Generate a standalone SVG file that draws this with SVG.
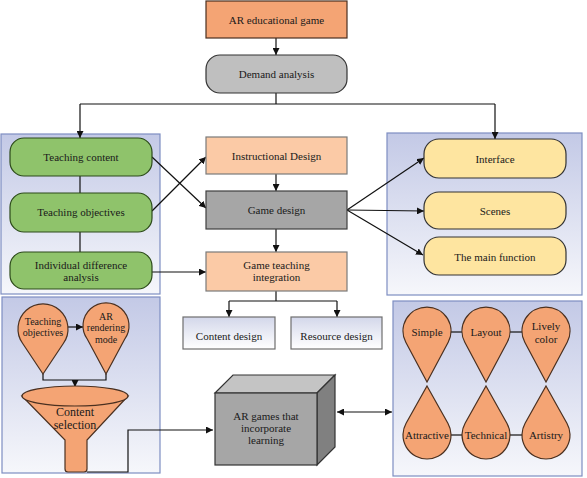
<svg xmlns="http://www.w3.org/2000/svg" width="587" height="478" viewBox="0 0 587 478">
<defs>
<linearGradient id="panelGrad" x1="0" y1="0" x2="0" y2="1">
<stop offset="0" stop-color="#c3c9e6"/>
<stop offset="1" stop-color="#f6f7fb"/>
</linearGradient>
<linearGradient id="boxGrad" x1="0" y1="0" x2="0" y2="1">
<stop offset="0" stop-color="#d3d7ea"/>
<stop offset="1" stop-color="#ffffff"/>
</linearGradient>
<marker id="arr" viewBox="0 0 10 10" refX="10" refY="5" markerWidth="7" markerHeight="7" orient="auto-start-reverse" markerUnits="userSpaceOnUse">
<path d="M0,0 L10,5 L0,10 Z" fill="#111"/>
</marker>
<style>
text{font-family:"Liberation Serif","Times New Roman",serif;font-size:11px;fill:#1a1a1a;text-anchor:middle}
.small{font-size:10px}
.big{font-size:12px}
.panel{fill:url(#panelGrad);stroke:#7e8ec2;stroke-width:1.2}
.orange{fill:#f4a474;stroke:#4a3020;stroke-width:1.2}
.gray{fill:#bfbfbf;stroke:#333;stroke-width:1.2}
.green{fill:#8fc36b;stroke:#2c4a1a;stroke-width:1.2}
.peach{fill:#fbcaa6;stroke:#7a7a7a;stroke-width:1.2}
.dgray{fill:#a6a6a6;stroke:#404040;stroke-width:1.2}
.yellow{fill:#fee5a0;stroke:#333;stroke-width:1.2}
.gbox{fill:url(#boxGrad);stroke:#6e6e6e;stroke-width:1.2}
.ln{fill:none;stroke:#111;stroke-width:1.2}
.ar{fill:none;stroke:#111;stroke-width:1.2;marker-end:url(#arr)}
</style>
</defs>
<rect width="587" height="478" fill="#ffffff"/>

<!-- panels -->
<g id="panels">
<rect id="panel-left-top" class="panel" x="1" y="134" width="159" height="160"/>
<rect id="panel-right-top" class="panel" x="387" y="133" width="195" height="162"/>
<rect id="panel-left-bottom" class="panel" x="2" y="297" width="158" height="176"/>
<rect id="panel-right-bottom" class="panel" x="393" y="301" width="189" height="175"/>
</g>

<!-- connectors -->
<g id="connectors">
<line class="ar" x1="276" y1="38" x2="276" y2="55"/>
<polyline class="ln" points="276,93 276,104"/>
<polyline class="ln" points="80,104 495,104"/>
<line class="ar" x1="80" y1="104" x2="80" y2="138"/>
<line class="ar" x1="495" y1="104" x2="495" y2="139"/>
<line class="ln" x1="80" y1="176" x2="80" y2="193"/>
<line class="ln" x1="80" y1="232" x2="80" y2="252"/>
<line class="ar" x1="152" y1="157" x2="206" y2="208"/>
<line class="ar" x1="152" y1="211" x2="206" y2="157"/>
<line class="ar" x1="152" y1="272" x2="206" y2="272"/>
<line class="ar" x1="276" y1="174" x2="276" y2="191"/>
<line class="ar" x1="276" y1="229" x2="276" y2="252"/>
<line class="ar" x1="347" y1="210" x2="424" y2="158"/>
<line class="ar" x1="347" y1="210" x2="424" y2="211"/>
<line class="ar" x1="347" y1="210" x2="423" y2="255"/>
<line class="ln" x1="276" y1="291" x2="276" y2="301"/>
<line class="ln" x1="229" y1="301" x2="337" y2="301"/>
<line class="ar" x1="229" y1="301" x2="229" y2="317"/>
<line class="ar" x1="337" y1="301" x2="337" y2="317"/>
<line class="ar" x1="66" y1="327" x2="83" y2="327"/>
<polyline class="ln" points="43,374 43,380 106,380 106,374"/>
<line class="ar" x1="75" y1="380" x2="75" y2="387"/>
<polyline class="ar" points="87,472 128,472 128,430 213,430"/>
<line class="ar" x1="337" y1="412" x2="392" y2="412" style="marker-start:url(#arr)"/>
<line class="ln" x1="451" y1="332" x2="462" y2="332"/>
<line class="ln" x1="510" y1="332" x2="522" y2="332"/>
<line class="ln" x1="451" y1="435" x2="462" y2="435"/>
<line class="ln" x1="510" y1="435" x2="522" y2="435"/>
</g>

<g id="n-ar-game"><rect class="orange" x="206" y="1" width="141" height="37"/><text x="276.5" y="24">AR educational game</text></g>
<g id="n-demand"><rect class="gray" x="206" y="55" width="141" height="38" rx="14"/><text x="276.5" y="78">Demand analysis</text></g>

<g id="n-teach-content"><rect class="green" x="10" y="138" width="142" height="38" rx="14"/><text x="81" y="161">Teaching content</text></g>
<g id="n-teach-obj"><rect class="green" x="10" y="193" width="142" height="39" rx="14"/><text x="81" y="216">Teaching objectives</text></g>
<g id="n-indiv"><rect class="green" x="10" y="252" width="142" height="37" rx="14"/><text x="81" y="269">Individual difference</text><text x="81" y="281">analysis</text></g>

<g id="n-instr"><rect class="peach" x="206" y="137" width="141" height="37"/><text x="276.5" y="159.5">Instructional Design</text></g>
<g id="n-game-design"><rect class="dgray" x="206" y="191" width="141" height="38"/><text x="276.5" y="214">Game design</text></g>
<g id="n-integration"><rect class="peach" x="206" y="252" width="141" height="39"/><text x="276.5" y="269">Game teaching</text><text x="276.5" y="281">integration</text></g>
<g id="n-content-design"><rect class="gbox" x="183" y="317" width="92" height="32"/><text x="229" y="339.5">Content design</text></g>
<g id="n-resource-design"><rect class="gbox" x="291" y="317" width="91" height="32"/><text x="336.5" y="339.5">Resource design</text></g>

<g id="n-interface"><rect class="yellow" x="424" y="139" width="142" height="39" rx="15"/><text x="495" y="163">Interface</text></g>
<g id="n-scenes"><rect class="yellow" x="424" y="192" width="142" height="37" rx="15"/><text x="495" y="215">Scenes</text></g>
<g id="n-main-func"><rect class="yellow" x="424" y="237" width="142" height="38" rx="15"/><text x="495" y="261">The main function</text></g>

<g id="n-drop-teach-obj"><path class="orange" d="M43,374 L22.7,343.5 A25 25 0 1 1 63.3,343.5 Z"/><text class="small" x="43" y="325">Teaching</text><text class="small" x="43" y="336">objectives</text></g>
<g id="n-drop-ar-mode"><path class="orange" d="M106,374 L87.5,339.5 A23 23 0 1 1 124.5,339.5 Z"/><text class="small" x="106" y="320">AR</text><text class="small" x="106" y="331">rendering</text><text class="small" x="106" y="343">mode</text></g>
<g id="n-funnel"><path class="orange" d="M22,396 L65,440 L65,469 Q65,472 68,472 L84,472 Q87,472 87,469 L87,440 L128,396 Z"/><ellipse class="orange" cx="75" cy="396" rx="53" ry="10"/><text class="big" x="75" y="416">Content</text><text class="big" x="75" y="429">selection</text></g>

<g id="n-ar-box">
<polygon points="215,393 233,375 335,375 317,393" fill="#c4c4c4" stroke="#333" stroke-width="1.2"/>
<polygon points="317,393 335,375 335,447 317,465" fill="#808080" stroke="#333" stroke-width="1.2"/>
<rect x="215" y="393" width="102" height="72" fill="#a6a6a6" stroke="#333" stroke-width="1.2"/>
<text x="266" y="420">AR games that</text><text x="266" y="432">incorporate</text><text x="266" y="444">learning</text>
</g>

<g id="n-simple"><path class="orange" d="M427,382 L405.8,342.3 A24 24 0 1 1 448.2,342.3 Z"/><text x="427" y="336">Simple</text></g>
<g id="n-layout"><path class="orange" d="M486,382 L464.8,342.3 A24 24 0 1 1 507.2,342.3 Z"/><text x="486" y="336">Layout</text></g>
<g id="n-lively"><path class="orange" d="M546,382 L524.8,342.3 A24 24 0 1 1 567.2,342.3 Z"/><text x="546" y="330">Lively</text><text x="546" y="343">color</text></g>
<g id="n-attractive"><path class="orange" d="M427,386 L447.9,423.2 A24 24 0 1 1 406.1,423.2 Z"/><text x="427" y="439">Attractive</text></g>
<g id="n-technical"><path class="orange" d="M486,386 L506.9,423.2 A24 24 0 1 1 465.1,423.2 Z"/><text x="486" y="439">Technical</text></g>
<g id="n-artistry"><path class="orange" d="M546,386 L566.9,423.2 A24 24 0 1 1 525.1,423.2 Z"/><text x="546" y="439">Artistry</text></g>
</svg>
